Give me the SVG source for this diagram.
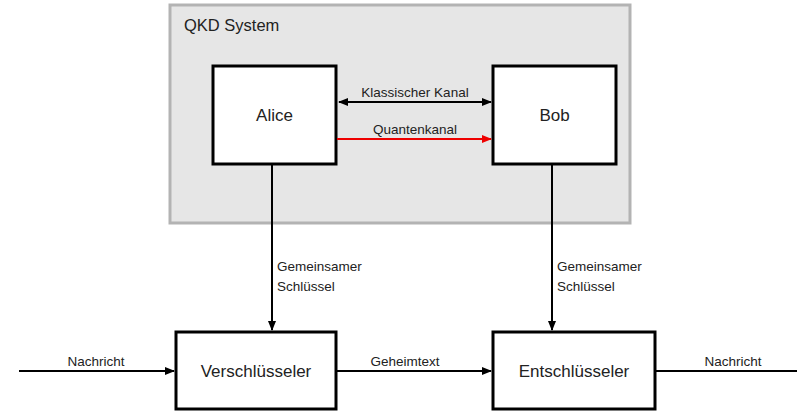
<svg xmlns="http://www.w3.org/2000/svg" width="797" height="412" viewBox="0 0 797 412">
<defs>
<marker id="ah" viewBox="0 0 10 10" refX="9" refY="5" markerWidth="5" markerHeight="5" orient="auto-start-reverse" markerUnits="strokeWidth"><path d="M0,1 L10,5 L0,9 z" fill="#000"/></marker>
<marker id="ahr" viewBox="0 0 10 10" refX="9" refY="5" markerWidth="5" markerHeight="5" orient="auto" markerUnits="strokeWidth"><path d="M0,1 L10,5 L0,9 z" fill="#e00"/></marker>
</defs>
<style>
.box{fill:#fff;stroke:#000;stroke-width:3}
.nt{font-family:"Liberation Sans",Arial,sans-serif;font-size:17px;fill:#222;text-anchor:middle}
.lt{font-family:"Liberation Sans",Arial,sans-serif;font-size:13.5px;fill:#222}
.c{stroke:#000;stroke-width:2;fill:none}
</style>
<g id="qkd">
<rect x="170" y="5" width="460" height="218" fill="#e6e6e6" stroke="#b3b3b3" stroke-width="3"/>
<text x="184" y="31" class="lt" style="font-size:16.5px">QKD System</text>
</g>
<g id="alice"><rect class="box" x="213" y="66" width="123" height="98"/><text class="nt" x="274.5" y="121">Alice</text></g>
<g id="bob"><rect class="box" x="493" y="66" width="123" height="98"/><text class="nt" x="554.5" y="121">Bob</text></g>
<g id="verschluesseler"><rect class="box" x="176" y="332" width="160" height="77"/><text class="nt" x="256" y="377">Verschlüsseler</text></g>
<g id="entschluesseler"><rect class="box" x="493" y="332" width="162" height="77"/><text class="nt" x="574" y="377">Entschlüsseler</text></g>
<g id="connectors">
<line class="c" x1="339" y1="102" x2="491" y2="102" stroke-width="1.5" marker-start="url(#ah)" marker-end="url(#ah)"/>
<line x1="337" y1="139" x2="491" y2="139" stroke="#e00" stroke-width="2" marker-end="url(#ahr)"/>
<line class="c" x1="272" y1="164" x2="272" y2="330" marker-end="url(#ah)"/>
<line class="c" x1="552" y1="164" x2="552" y2="330" marker-end="url(#ah)"/>
<line class="c" x1="19" y1="371" x2="174" y2="371" marker-end="url(#ah)"/>
<line class="c" x1="336" y1="371" x2="491" y2="371" marker-end="url(#ah)"/>
<line class="c" x1="655" y1="371" x2="797" y2="371"/>
<text class="lt" x="415" y="97" text-anchor="middle">Klassischer Kanal</text>
<text class="lt" x="415" y="134" text-anchor="middle">Quantenkanal</text>
<text class="lt" x="277" y="271">Gemeinsamer</text>
<text class="lt" x="277" y="291">Schlüssel</text>
<text class="lt" x="557" y="271">Gemeinsamer</text>
<text class="lt" x="557" y="291">Schlüssel</text>
<text class="lt" x="96" y="366" text-anchor="middle">Nachricht</text>
<text class="lt" x="405" y="366" text-anchor="middle">Geheimtext</text>
<text class="lt" x="733" y="366" text-anchor="middle">Nachricht</text>
</g>
</svg>
